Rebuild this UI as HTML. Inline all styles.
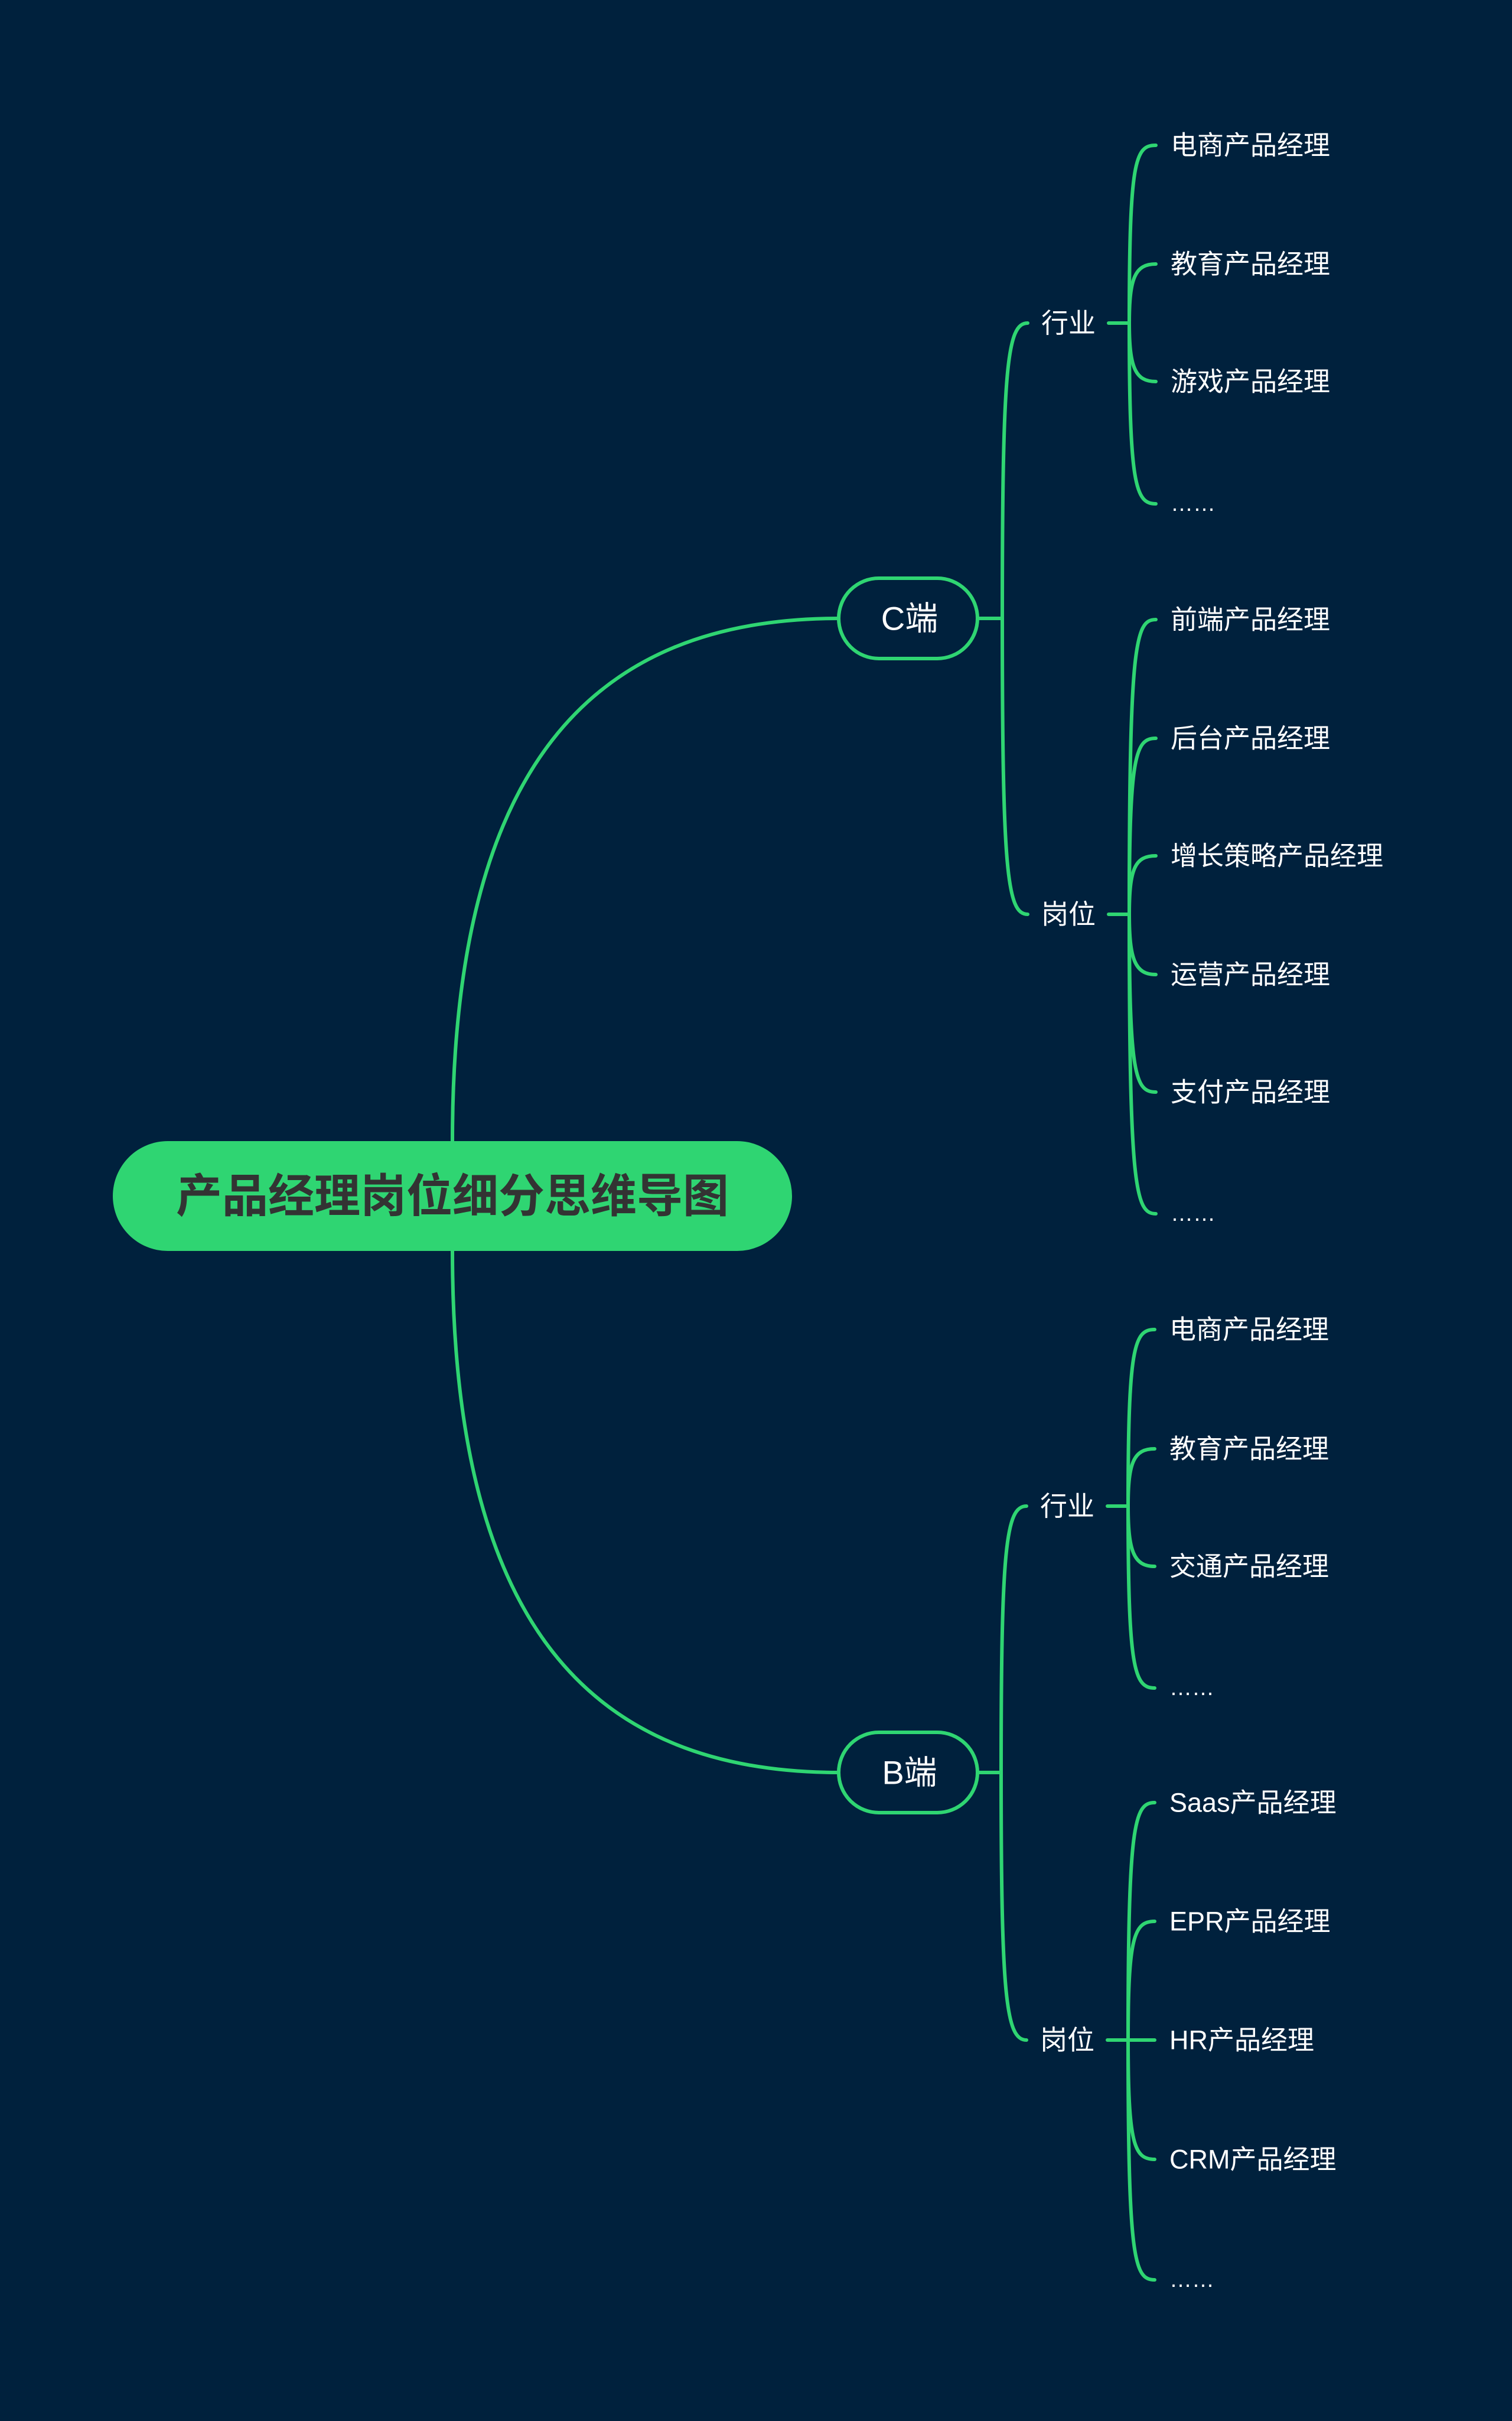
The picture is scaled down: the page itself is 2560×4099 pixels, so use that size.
<!DOCTYPE html>
<html><head><meta charset="utf-8"><style>
html,body{margin:0;padding:0;background:#00213d;}
svg{display:block}
text{font-family:"Liberation Sans","Noto Sans CJK SC",sans-serif;fill:#fff;dominant-baseline:central}
</style></head><body>
<svg width="2560" height="4099" viewBox="0 0 2560 4099" xmlns="http://www.w3.org/2000/svg">
<rect width="2560" height="4099" fill="#00213d"/>
<g fill="none" stroke="#2fd572" stroke-width="6" stroke-linecap="round">
<path d="M766,1932 C766,1300 1000,1047 1420,1047"/>
<path d="M766,2118 C766,2750 1000,3001 1420,3001"/>
<path d="M1655,1047 L1697,1047"/>
<path d="M1697,1047 C1697,620 1705,547 1740,547"/>
<path d="M1697,1047 C1697,1475 1705,1548 1740,1548"/>
<path d="M1877,547 L1912,547"/>
<path d="M1912,547 C1912,270 1922,246 1957,246"/>
<path d="M1912,547 C1912,470 1922,447 1957,447"/>
<path d="M1912,547 C1912,622 1922,646 1957,646"/>
<path d="M1912,547 C1912,820 1922,853 1957,853"/>
<path d="M1877,1548 L1912,1548"/>
<path d="M1912,1548 C1912,1090 1922,1049 1957,1049"/>
<path d="M1912,1548 C1912,1280 1922,1250 1957,1250"/>
<path d="M1912,1548 C1912,1470 1922,1449 1957,1449"/>
<path d="M1912,1548 C1912,1625 1922,1650 1957,1650"/>
<path d="M1912,1548 C1912,1820 1922,1849 1957,1849"/>
<path d="M1912,1548 C1912,2010 1922,2055 1957,2055"/>
<path d="M1655,3001 L1695,3001"/>
<path d="M1695,3001 C1695,2620 1703,2550 1738,2550"/>
<path d="M1695,3001 C1695,3380 1703,3454 1738,3454"/>
<path d="M1875,2550 L1910,2550"/>
<path d="M1910,2550 C1910,2280 1920,2251 1955,2251"/>
<path d="M1910,2550 C1910,2475 1920,2453 1955,2453"/>
<path d="M1910,2550 C1910,2627 1920,2652 1955,2652"/>
<path d="M1910,2550 C1910,2825 1920,2858 1955,2858"/>
<path d="M1875,3454 L1910,3454"/>
<path d="M1910,3454 C1910,3090 1920,3052 1955,3052"/>
<path d="M1910,3454 C1910,3280 1920,3253 1955,3253"/>
<path d="M1910,3454 L1955,3454"/>
<path d="M1910,3454 C1910,3630 1920,3656 1955,3656"/>
<path d="M1910,3454 C1910,3825 1920,3860 1955,3860"/>
<rect x="1420" y="979" width="235" height="136" rx="68" fill="#00213d"/>
<rect x="1420" y="2933" width="235" height="136" rx="68" fill="#00213d"/>
</g>
<rect x="191" y="1932" width="1150" height="186" rx="93" fill="#2fd572"/>
<text x="766" y="2025" text-anchor="middle" font-size="78" font-weight="bold" style="fill:#333">产品经理岗位细分思维导图</text>
<text x="1540" y="1047" text-anchor="middle" font-size="56">C端</text>
<text x="1540" y="3001" text-anchor="middle" font-size="56">B端</text>
<g font-size="46">
<text x="1763" y="547">行业</text>
<text x="1763" y="1548">岗位</text>
<text x="1761" y="2550">行业</text>
<text x="1761" y="3454">岗位</text>
</g>
<g font-size="45">
<text x="1982" y="246">电商产品经理</text>
<text x="1982" y="447">教育产品经理</text>
<text x="1982" y="646">游戏产品经理</text>
<text x="1982" y="853" font-size="38">……</text>
<text x="1982" y="1049">前端产品经理</text>
<text x="1982" y="1250">后台产品经理</text>
<text x="1982" y="1449">增长策略产品经理</text>
<text x="1982" y="1650">运营产品经理</text>
<text x="1982" y="1849">支付产品经理</text>
<text x="1982" y="2055" font-size="38">……</text>
<text x="1980" y="2251">电商产品经理</text>
<text x="1980" y="2453">教育产品经理</text>
<text x="1980" y="2652">交通产品经理</text>
<text x="1980" y="2858" font-size="38">……</text>
<text x="1980" y="3052">Saas产品经理</text>
<text x="1980" y="3253">EPR产品经理</text>
<text x="1980" y="3454">HR产品经理</text>
<text x="1980" y="3656">CRM产品经理</text>
<text x="1980" y="3860" font-size="38">……</text>
</g>
</svg>
</body></html>
